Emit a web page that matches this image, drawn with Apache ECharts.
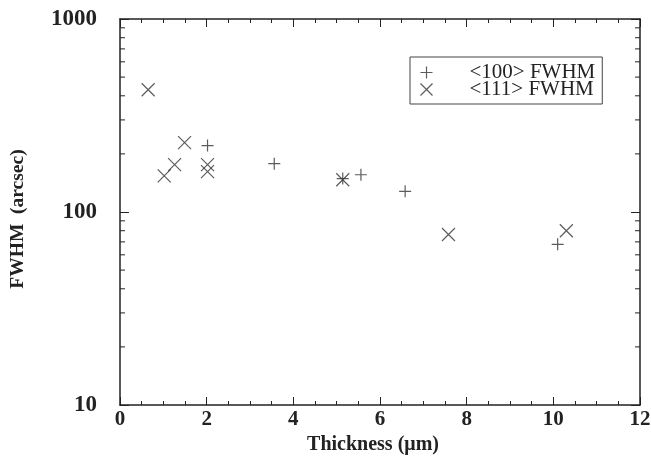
<!DOCTYPE html>
<html><head><meta charset="utf-8">
<script src="https://cdn.jsdelivr.net/npm/echarts@6/dist/echarts.min.js"></script>
<style>html,body{margin:0;padding:0;background:#fff}#c{width:651px;height:464px}</style>
</head><body><div id="c"></div>
<script>
var xTicks = [0, 2, 4, 6, 8, 10, 12];
var yTicks = [10, 100, 1000];
var yMinorTicks = [20,30,40,50,60,70,80,90,200,300,400,500,600,700,800,900];
var names = ['<100> FWHM', '<111> FWHM'];
var s100x = [2.02, 3.56, 5.14, 5.56, 6.58, 10.1];
var s100y = [221, 178, 149, 156, 128, 68];
var s111x = [0.65, 1.02, 1.26, 1.49, 2.02, 2.02, 5.14, 7.58, 10.3];
var s111y = [430, 154, 176, 229, 176, 162, 147, 76.5, 80];

function pairs(xs, ys){ return xs.map(function(x,i){return [x, ys[i]];}); }
var ink = '#333';
var font = 'Liberation Serif';
var plusPath = 'path://M5,0L5,10M0,5L10,5';
var crossPath = 'path://M0,0L10,10M10,0L0,10';

var chart = echarts.init(document.getElementById('c'));
var axisLine = {show:true, onZero:false, lineStyle:{color:'#222', width:1.5}};
chart.setOption({
  animation:false,
  grid:{left:120, right:11, top:19, bottom:59, outerBoundsMode:'none', containLabel:false},
  legend:{
    left:410, top:57,
    orient:'vertical', itemGap:-4, itemWidth:12, itemHeight:12,
    padding:[5,7,4,8],
    borderColor:'#444', borderWidth:1, backgroundColor:'#fff',
    textStyle:{fontFamily:font, fontSize:21, lineHeight:18, color:'#222', padding:[0,0,0,32]},
    data:[
      {name:names[0], icon:plusPath, itemStyle:{color:'none', borderColor:ink, borderWidth:1.2}},
      {name:names[1], icon:crossPath, itemStyle:{color:'none', borderColor:ink, borderWidth:1.2}}
    ]
  },
  xAxis:[{
    type:'value', min:0, max:12, interval:2, position:'bottom',
    name:'Thickness (μm)', nameLocation:'middle', nameGap:27,
    nameTextStyle:{fontFamily:font, fontWeight:'bold', fontSize:20, color:'#222', padding:[0,14,0,0]},
    axisLine:axisLine,
    axisTick:{show:true, inside:true, length:8, lineStyle:{color:'#222'}},
    minorTick:{show:true, splitNumber:4, length:4, lineStyle:{color:'#222'}},
    axisLabel:{fontFamily:font, fontWeight:'bold', fontSize:21, color:'#222', margin:4,
      formatter:function(v){return xTicks.indexOf(v)>=0 ? String(v) : '';}},
    splitLine:{show:false}
  },{
    type:'value', min:0, max:12, interval:2, position:'top',
    axisLine:axisLine,
    axisTick:{show:true, inside:true, length:8, lineStyle:{color:'#222'}},
    minorTick:{show:true, splitNumber:4, length:4, lineStyle:{color:'#222'}},
    axisLabel:{show:false}, splitLine:{show:false}
  }],
  yAxis:[{
    type:'log', logBase:10, min:10, max:1000, position:'left',
    name:'FWHM  (arcsec)', nameLocation:'middle', nameGap:92, nameRotate:90,
    nameTextStyle:{fontFamily:font, fontWeight:'bold', fontSize:19.5, color:'#222', padding:[0,14,0,0]},
    axisLine:axisLine,
    axisTick:{show:true, inside:true, length:9, lineStyle:{color:'#222'}},
    axisLabel:{fontFamily:font, fontWeight:'bold', fontSize:23, color:'#222', margin:23,
      formatter:function(v){return yTicks.indexOf(Math.round(v))>=0 ? String(Math.round(v)) : '';}},
    splitLine:{show:false}
  },{
    type:'log', logBase:10, min:10, max:1000, position:'right',
    axisLine:axisLine,
    axisTick:{show:true, inside:true, length:9, lineStyle:{color:'#222'}},
    axisLabel:{show:false}, splitLine:{show:false}
  }],
  series:[{
    name:names[0], type:'scatter', data:pairs(s100x, s100y),
    symbol:plusPath, symbolSize:12,
    itemStyle:{color:'none', borderColor:ink, borderWidth:1.2}
  },{
    name:names[1], type:'scatter', data:pairs(s111x, s111y),
    symbol:crossPath, symbolSize:13,
    itemStyle:{color:'none', borderColor:ink, borderWidth:1.2}
  },{
    type:'custom', silent:true, legendHoverLink:false,
    data:yMinorTicks.map(function(v){return [0, v];}),
    renderItem:function(params, api){
      var v = api.value(1);
      var l = api.coord([0, v]);
      var r = api.coord([12, v]);
      return {type:'group', children:[
        {type:'line', shape:{x1:l[0], y1:l[1], x2:l[0]+5, y2:l[1]}, style:{stroke:'#222', lineWidth:1}},
        {type:'line', shape:{x1:r[0], y1:r[1], x2:r[0]-5, y2:r[1]}, style:{stroke:'#222', lineWidth:1}}
      ]};
    }
  }]
});
</script></body></html>
